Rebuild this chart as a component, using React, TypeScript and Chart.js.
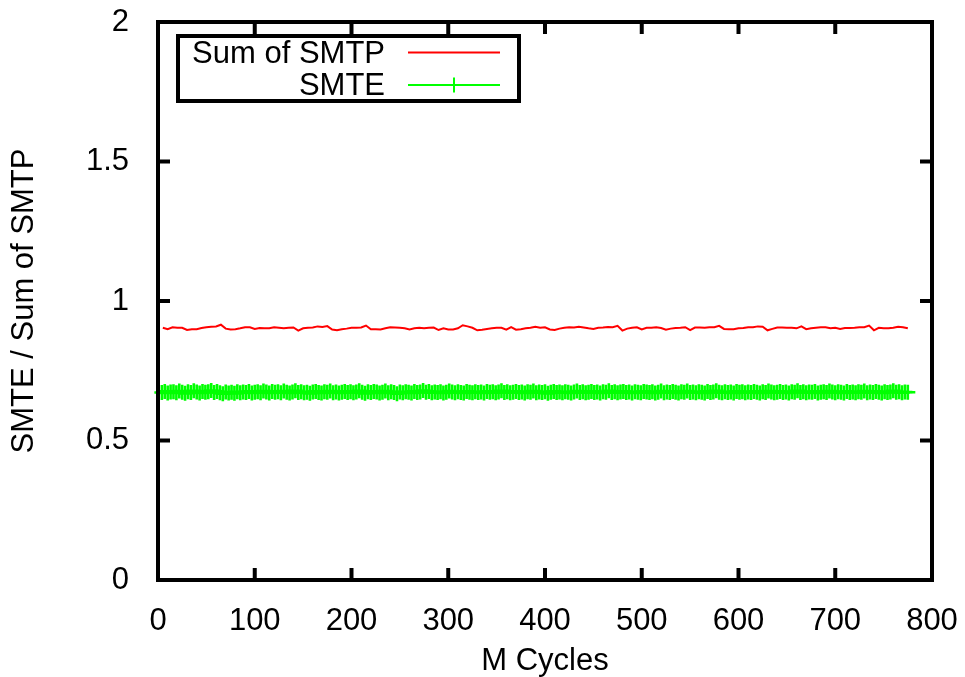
import React, { useEffect, useRef } from "react";
import { Chart, registerables } from "chart.js";

Chart.register(...registerables);

const seriesNames = ["Sum of SMTP", "SMTE"];
const xTicks = [0, 100, 200, 300, 400, 500, 600, 700, 800];
const xTickLabels = ["0", "100", "200", "300", "400", "500", "600", "700", "800"];
const yTicks = [0, 0.5, 1, 1.5, 2];
const yTickLabels = ["0", "0.5", "1", "1.5", "2"];
const xAxisTitle = "M Cycles";
const yAxisTitle = "SMTE / Sum of SMTP";

// Sum of SMTP sampled every 5 M cycles, starting at 5
const smtpStart = 5;
const smtpStep = 5;
const smtpValues = [
  0.904, 0.899, 0.906, 0.904, 0.904, 0.896, 0.899, 0.899, 0.903, 0.906, 0.908, 0.909, 0.915, 0.901, 0.898, 0.899, 0.902, 0.906, 0.906, 0.9,
  0.903, 0.902, 0.902, 0.906, 0.904, 0.902, 0.904, 0.905, 0.894, 0.902, 0.904, 0.905, 0.909, 0.907, 0.91, 0.898, 0.895, 0.899, 0.901, 0.904,
  0.904, 0.905, 0.912, 0.899, 0.899, 0.898, 0.902, 0.906, 0.905, 0.904, 0.902, 0.898, 0.902, 0.904, 0.902, 0.904, 0.905, 0.896, 0.902, 0.898,
  0.898, 0.902, 0.913, 0.909, 0.904, 0.895, 0.897, 0.9, 0.902, 0.904, 0.904, 0.897, 0.906, 0.897, 0.899, 0.902, 0.904, 0.908, 0.904, 0.906,
  0.898, 0.896, 0.901, 0.904, 0.906, 0.905, 0.908, 0.905, 0.902, 0.9, 0.904, 0.905, 0.907, 0.906, 0.911, 0.894, 0.901, 0.904, 0.906, 0.898,
  0.904, 0.904, 0.906, 0.903, 0.897, 0.901, 0.903, 0.904, 0.906, 0.896, 0.905, 0.905, 0.904, 0.906, 0.906, 0.911, 0.9, 0.899, 0.899, 0.902,
  0.903, 0.906, 0.906, 0.909, 0.908, 0.895, 0.9, 0.905, 0.905, 0.904, 0.904, 0.902, 0.909, 0.899, 0.902, 0.904, 0.906, 0.906, 0.902, 0.904,
  0.9, 0.903, 0.903, 0.904, 0.906, 0.906, 0.912, 0.895, 0.904, 0.902, 0.902, 0.904, 0.908, 0.906, 0.902,
];

// SMTE sampled every 3 M cycles, starting at 4
const smteStart = 4;
const smteStep = 3;
const smteValues = [
  0.672, 0.676, 0.67, 0.674, 0.675, 0.671, 0.677, 0.673, 0.669, 0.675, 0.672, 0.678, 0.674, 0.67, 0.676, 0.673, 0.675, 0.679, 0.672, 0.676,
  0.671, 0.668, 0.674, 0.67, 0.673, 0.669, 0.675, 0.671, 0.674, 0.672, 0.676, 0.67, 0.673, 0.675, 0.671, 0.677, 0.674, 0.67, 0.676, 0.673,
  0.675, 0.671, 0.677, 0.673, 0.67, 0.674, 0.678, 0.672, 0.675, 0.671, 0.673, 0.669, 0.674, 0.676, 0.672, 0.67, 0.675, 0.673, 0.677, 0.671,
  0.674, 0.67, 0.673, 0.676, 0.672, 0.675, 0.671, 0.674, 0.678, 0.673, 0.669, 0.675, 0.672, 0.676, 0.674, 0.67, 0.673, 0.677, 0.671, 0.675,
  0.672, 0.668, 0.674, 0.671, 0.675, 0.673, 0.67, 0.676, 0.672, 0.674, 0.679, 0.673, 0.676, 0.671, 0.674, 0.672, 0.675, 0.67, 0.673, 0.677,
  0.674, 0.671, 0.675, 0.672, 0.67, 0.676, 0.673, 0.671, 0.675, 0.672, 0.674, 0.67, 0.676, 0.673, 0.675, 0.671, 0.674, 0.678, 0.672, 0.675,
  0.671, 0.673, 0.676, 0.672, 0.674, 0.67, 0.675, 0.673, 0.677, 0.671, 0.674, 0.672, 0.675, 0.669, 0.673, 0.676, 0.672, 0.674, 0.671, 0.675,
  0.673, 0.67, 0.674, 0.677, 0.672, 0.675, 0.671, 0.673, 0.676, 0.672, 0.674, 0.67, 0.675, 0.673, 0.678, 0.672, 0.675, 0.671, 0.674, 0.676,
  0.672, 0.674, 0.67, 0.675, 0.673, 0.671, 0.676, 0.674, 0.672, 0.675, 0.67, 0.673, 0.677, 0.671, 0.674, 0.672, 0.676, 0.673, 0.67, 0.675,
  0.673, 0.677, 0.672, 0.674, 0.671, 0.675, 0.673, 0.67, 0.676, 0.672, 0.674, 0.678, 0.673, 0.671, 0.675, 0.672, 0.674, 0.67, 0.676, 0.673,
  0.675, 0.671, 0.674, 0.672, 0.676, 0.673, 0.67, 0.675, 0.672, 0.677, 0.674, 0.671, 0.673, 0.676, 0.672, 0.674, 0.67, 0.675, 0.673, 0.678,
  0.672, 0.675, 0.671, 0.674, 0.673, 0.676, 0.67, 0.673, 0.675, 0.672, 0.677, 0.674, 0.671, 0.675, 0.673, 0.67, 0.676, 0.672, 0.674, 0.671,
  0.675, 0.673, 0.677, 0.671, 0.674, 0.672, 0.676, 0.673, 0.67, 0.675, 0.672, 0.674, 0.678, 0.673, 0.675, 0.671, 0.674, 0.673,
];

const FONT = "'Liberation Sans', Arial, Helvetica, sans-serif";
const RED = "#ff0000";
const GREEN = "#00ff00";

const framePlugin = {
  id: "gnuplotFrame",
  afterDatasetsDraw(chart: any) {
    const { ctx, chartArea, scales } = chart;
    const { left, right, top, bottom } = chartArea;
    const tl = 12;
    ctx.save();
    ctx.strokeStyle = "#000";
    ctx.lineWidth = 4;
    ctx.lineCap = "butt";
    ctx.beginPath();
    for (const v of xTicks) {
      const px = scales.x.getPixelForValue(v);
      ctx.moveTo(px, bottom);
      ctx.lineTo(px, bottom - tl);
      ctx.moveTo(px, top);
      ctx.lineTo(px, top + tl);
    }
    for (const v of yTicks) {
      const py = scales.y.getPixelForValue(v);
      ctx.moveTo(left, py);
      ctx.lineTo(left + tl, py);
      ctx.moveTo(right, py);
      ctx.lineTo(right - tl, py);
    }
    ctx.stroke();
    ctx.lineJoin = "miter";
    ctx.strokeRect(left, top, right - left, bottom - top);

    // legend box
    const bx = 178, by = 36, bw = 341, bh = 65;
    ctx.strokeRect(bx, by, bw, bh);
    ctx.font = `31px ${FONT}`;
    ctx.fillStyle = "#000";
    ctx.textAlign = "right";
    ctx.textBaseline = "middle";
    const rows = [54, 86.5];
    chart.data.datasets.forEach((ds: any, i: number) => {
      const y = rows[i];
      ctx.fillText(ds.label, 385, y);
      const ly = y - 1.5;
      ctx.strokeStyle = ds.borderColor;
      ctx.lineWidth = 2;
      ctx.beginPath();
      ctx.moveTo(408, ly);
      ctx.lineTo(500, ly);
      if (ds.pointRadius > 0) {
        ctx.moveTo(454, ly - 7.5);
        ctx.lineTo(454, ly + 7.5);
      }
      ctx.stroke();
    });
    ctx.restore();
  },
};

export default function App() {
  const canvasRef = useRef<HTMLCanvasElement | null>(null);

  useEffect(() => {
    document.body.style.margin = "0";
    const canvas = canvasRef.current;
    if (!canvas) return;

    const smtpData = smtpValues.map((v, i) => ({ x: smtpStart + i * smtpStep, y: v }));
    const smteData = smteValues.map((v, i) => ({ x: smteStart + i * smteStep, y: v }));

    const chart = new Chart(canvas, {
      type: "line",
      data: {
        datasets: [
          {
            label: seriesNames[0],
            data: smtpData,
            borderColor: RED,
            backgroundColor: RED,
            borderWidth: 2,
            pointRadius: 0,
            tension: 0,
            fill: false,
          },
          {
            label: seriesNames[1],
            data: smteData,
            borderColor: GREEN,
            backgroundColor: GREEN,
            borderWidth: 2,
            pointStyle: "cross",
            pointRadius: 7.5,
            pointBorderWidth: 2.6,
            pointBorderColor: GREEN,
            tension: 0,
            fill: false,
            clip: false,
          } as any,
        ],
      },
      options: {
        animation: false,
        responsive: false,
        devicePixelRatio: 1,
        events: [],
        layout: { padding: { left: 0, top: 22, right: 33, bottom: 0 } },
        plugins: {
          legend: { display: false },
          tooltip: { enabled: false },
          title: { display: false },
        },
        scales: {
          x: {
            type: "linear",
            min: 0,
            max: 800,
            afterBuildTicks: (s: any) => {
              s.ticks = xTicks.map((v) => ({ value: v }));
            },
            afterFit: (s: any) => {
              s.height = 97;
              s.paddingLeft = 0;
              s.paddingRight = 0;
              s.paddingTop = 0;
              s.paddingBottom = 0;
            },
            grid: { display: false },
            border: { display: false },
            ticks: {
              autoSkip: false,
              maxRotation: 0,
              padding: 15,
              color: "#000",
              font: { family: FONT, size: 31 },
              callback: (v: any) => {
                const i = xTicks.indexOf(Number(v));
                return i >= 0 ? xTickLabels[i] : "";
              },
            },
            title: {
              display: true,
              text: xAxisTitle,
              color: "#000",
              font: { family: FONT, size: 31, lineHeight: 1 },
              padding: { top: 0, bottom: 0 },
            },
          },
          y: {
            type: "linear",
            min: 0,
            max: 2,
            afterBuildTicks: (s: any) => {
              s.ticks = yTicks.map((v) => ({ value: v }));
            },
            afterFit: (s: any) => {
              s.width = 158;
              s.paddingLeft = 0;
              s.paddingRight = 0;
              s.paddingTop = 0;
              s.paddingBottom = 0;
            },
            grid: { display: false },
            border: { display: false },
            ticks: {
              padding: 21,
              color: "#000",
              font: { family: FONT, size: 31 },
              callback: (v: any) => {
                const i = yTicks.indexOf(Number(v));
                return i >= 0 ? yTickLabels[i] : "";
              },
            },
            title: {
              display: true,
              text: yAxisTitle,
              color: "#000",
              font: { family: FONT, size: 31, lineHeight: 1 },
              padding: { top: 9, bottom: 0 },
            },
          },
        },
      },
      plugins: [framePlugin],
    });

    return () => {
      chart.destroy();
    };
  }, []);

  return (
    <div style={{ position: "absolute", left: 0, top: 0, width: 965, height: 677, background: "#fff" }}>
      <canvas ref={canvasRef} width={965} height={677} style={{ width: 965, height: 677, display: "block" }} />
    </div>
  );
}
